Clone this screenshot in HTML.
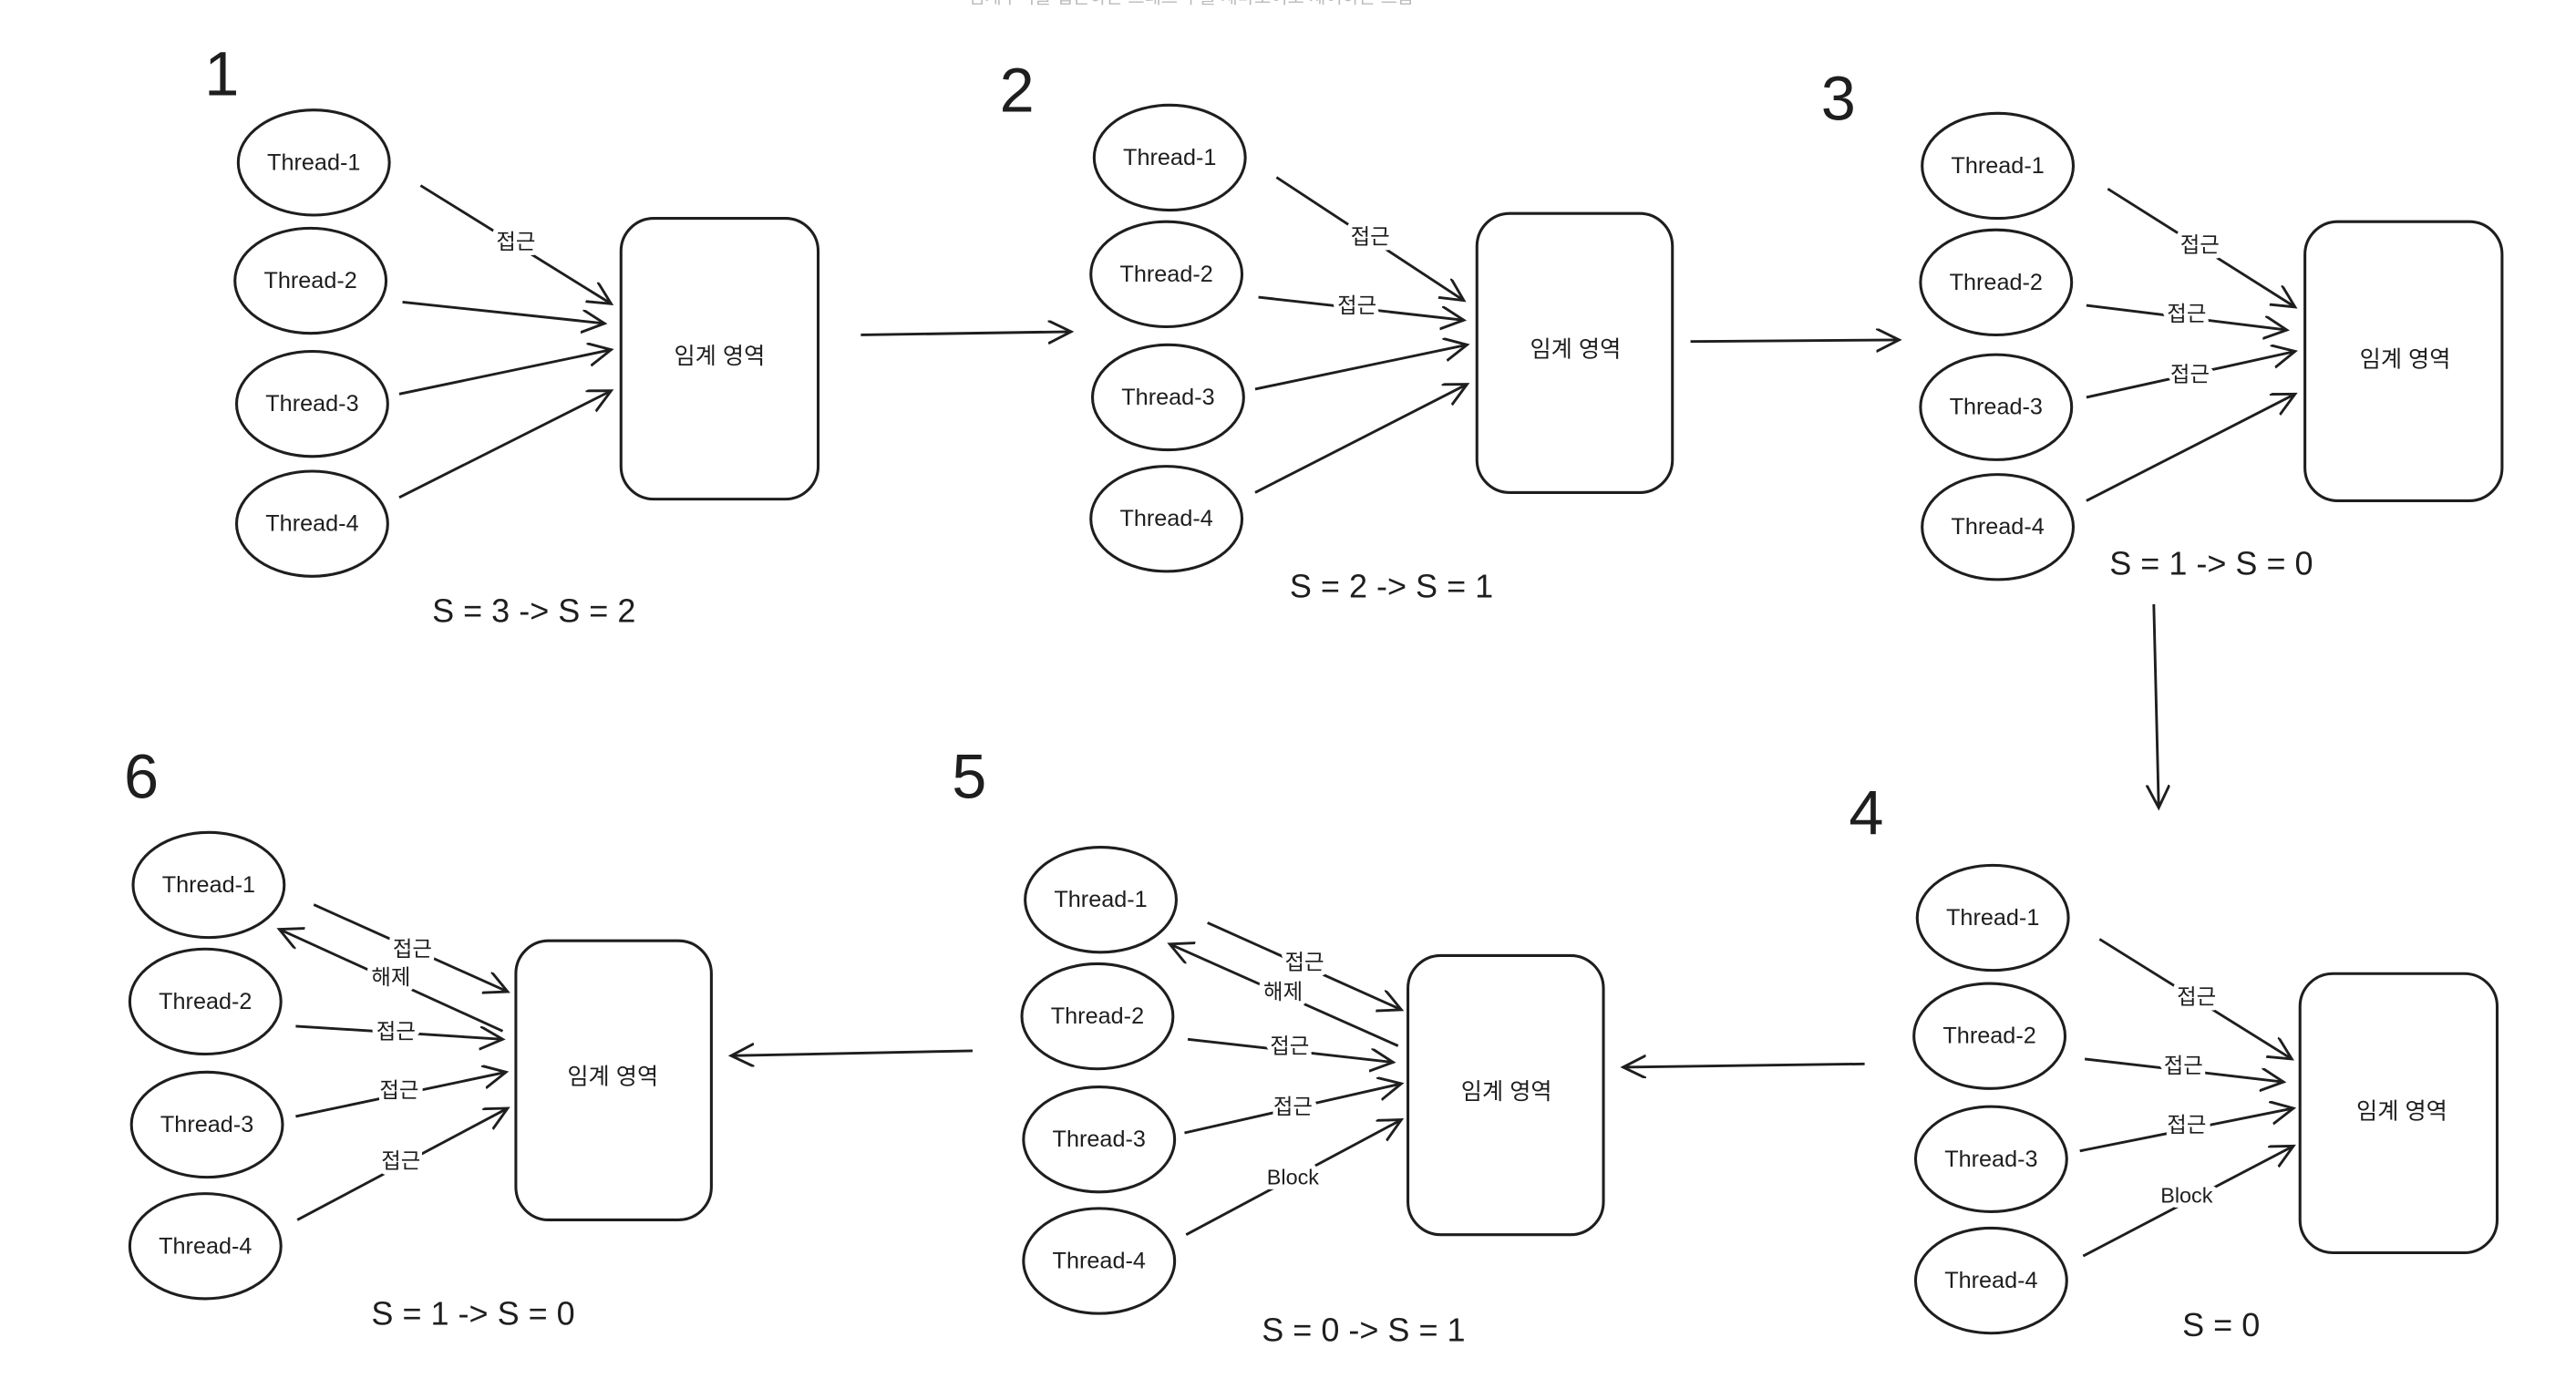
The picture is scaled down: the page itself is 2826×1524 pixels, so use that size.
<!DOCTYPE html>
<html><head><meta charset="utf-8"><style>
html,body{margin:0;padding:0;background:#fff;width:2826px;height:1524px;overflow:hidden}
svg{display:block}
text{font-family:"Liberation Sans","Noto Sans CJK KR",sans-serif;fill:#1e1e1e}
.t{font-size:14px;text-anchor:middle;dominant-baseline:central}
.l{font-size:13px;text-anchor:middle;dominant-baseline:central;stroke:#fff;stroke-width:6px;paint-order:stroke;stroke-linejoin:round}
.n{font-size:38px;text-anchor:middle;dominant-baseline:central}
.s{font-size:20px;text-anchor:middle;dominant-baseline:central}
ellipse,rect{fill:none;stroke:#1e1e1e;stroke-width:1.7}
line{stroke:#1e1e1e;stroke-width:1.6;marker-end:url(#a)}
</style></head><body>
<svg width="2826" height="1524" viewBox="0 0 1568 846" preserveAspectRatio="none">
<defs><marker id="a" markerWidth="20" markerHeight="20" refX="14" refY="7" orient="auto" markerUnits="userSpaceOnUse"><polyline points="0,0 14,7 0,14" fill="none" stroke="#1e1e1e" stroke-width="1.6"/></marker></defs>
<text x="725" y="2" style="font-size:11px;fill:#bbb;text-anchor:middle">임계구역을 접근하는 스레드 수를 세마포어로 제어하는 흐름</text>

<!-- Panel 1 -->
<text class="n" x="135" y="45">1</text>
<ellipse cx="191" cy="99" rx="46" ry="32"/><text class="t" x="191" y="99">Thread-1</text>
<ellipse cx="189" cy="171" rx="46" ry="32"/><text class="t" x="189" y="171">Thread-2</text>
<ellipse cx="190" cy="246" rx="46" ry="32"/><text class="t" x="190" y="246">Thread-3</text>
<ellipse cx="190" cy="319" rx="46" ry="32"/><text class="t" x="190" y="319">Thread-4</text>
<rect x="378" y="133" width="120" height="171" rx="20"/><text class="t" x="438" y="217">임계 영역</text>
<line x1="256" y1="113" x2="372" y2="185"/><text class="l" x="314" y="147">접근</text>
<line x1="245" y1="184" x2="368" y2="197"/>
<line x1="243" y1="240" x2="372" y2="213"/>
<line x1="243" y1="303" x2="372" y2="238"/>
<text class="s" x="325" y="372">S = 3 -&gt; S = 2</text>
<line x1="524" y1="204" x2="652" y2="202"/>

<!-- Panel 2 -->
<text class="n" x="619" y="55">2</text>
<ellipse cx="712" cy="96" rx="46" ry="32"/><text class="t" x="712" y="96">Thread-1</text>
<ellipse cx="710" cy="167" rx="46" ry="32"/><text class="t" x="710" y="167">Thread-2</text>
<ellipse cx="711" cy="242" rx="46" ry="32"/><text class="t" x="711" y="242">Thread-3</text>
<ellipse cx="710" cy="316" rx="46" ry="32"/><text class="t" x="710" y="316">Thread-4</text>
<rect x="899" y="130" width="119" height="170" rx="20"/><text class="t" x="959" y="213">임계 영역</text>
<line x1="777" y1="108" x2="891" y2="183"/><text class="l" x="834" y="144">접근</text>
<line x1="766" y1="181" x2="891" y2="195"/><text class="l" x="826" y="186">접근</text>
<line x1="764" y1="237" x2="893" y2="210"/>
<line x1="764" y1="300" x2="893" y2="234"/>
<text class="s" x="847" y="357">S = 2 -&gt; S = 1</text>
<line x1="1029" y1="208" x2="1156" y2="207"/>

<!-- Panel 3 -->
<text class="n" x="1119" y="60">3</text>
<ellipse cx="1216" cy="101" rx="46" ry="32"/><text class="t" x="1216" y="101">Thread-1</text>
<ellipse cx="1215" cy="172" rx="46" ry="32"/><text class="t" x="1215" y="172">Thread-2</text>
<ellipse cx="1215" cy="248" rx="46" ry="32"/><text class="t" x="1215" y="248">Thread-3</text>
<ellipse cx="1216" cy="321" rx="46" ry="32"/><text class="t" x="1216" y="321">Thread-4</text>
<rect x="1403" y="135" width="120" height="170" rx="20"/><text class="t" x="1464" y="219">임계 영역</text>
<line x1="1283" y1="115" x2="1397" y2="187"/><text class="l" x="1339" y="149">접근</text>
<line x1="1270" y1="186" x2="1392" y2="201"/><text class="l" x="1331" y="191">접근</text>
<line x1="1270" y1="242" x2="1397" y2="214"/><text class="l" x="1333" y="228">접근</text>
<line x1="1270" y1="305" x2="1397" y2="240"/>
<text class="s" x="1346" y="343">S = 1 -&gt; S = 0</text>
<line x1="1311" y1="368" x2="1314" y2="492"/>

<!-- Panel 4 -->
<text class="n" x="1136" y="495">4</text>
<ellipse cx="1213" cy="559" rx="46" ry="32"/><text class="t" x="1213" y="559">Thread-1</text>
<ellipse cx="1211" cy="631" rx="46" ry="32"/><text class="t" x="1211" y="631">Thread-2</text>
<ellipse cx="1212" cy="706" rx="46" ry="32"/><text class="t" x="1212" y="706">Thread-3</text>
<ellipse cx="1212" cy="780" rx="46" ry="32"/><text class="t" x="1212" y="780">Thread-4</text>
<rect x="1400" y="593" width="120" height="170" rx="20"/><text class="t" x="1462" y="677">임계 영역</text>
<line x1="1278" y1="572" x2="1395" y2="645"/><text class="l" x="1337" y="607">접근</text>
<line x1="1269" y1="645" x2="1390" y2="659"/><text class="l" x="1329" y="649">접근</text>
<line x1="1266" y1="701" x2="1396" y2="675"/><text class="l" x="1331" y="685">접근</text>
<line x1="1268" y1="765" x2="1396" y2="698"/><text class="l" x="1331" y="728">Block</text>
<text class="s" x="1352" y="807">S = 0</text>
<line x1="1135" y1="648" x2="988" y2="650"/>

<!-- Panel 5 -->
<text class="n" x="590" y="473">5</text>
<ellipse cx="670" cy="548" rx="46" ry="32"/><text class="t" x="670" y="548">Thread-1</text>
<ellipse cx="668" cy="619" rx="46" ry="32"/><text class="t" x="668" y="619">Thread-2</text>
<ellipse cx="669" cy="694" rx="46" ry="32"/><text class="t" x="669" y="694">Thread-3</text>
<ellipse cx="669" cy="768" rx="46" ry="32"/><text class="t" x="669" y="768">Thread-4</text>
<rect x="857" y="582" width="119" height="170" rx="20"/><text class="t" x="917" y="665">임계 영역</text>
<line x1="735" y1="562" x2="853" y2="615"/>
<line x1="851" y1="637" x2="712" y2="575"/>
<text class="l" x="794" y="586">접근</text><text class="l" x="781" y="604">해제</text>
<line x1="723" y1="633" x2="848" y2="647"/><text class="l" x="785" y="637">접근</text>
<line x1="721" y1="690" x2="853" y2="660"/><text class="l" x="787" y="674">접근</text>
<line x1="722" y1="752" x2="853" y2="682"/><text class="l" x="787" y="717">Block</text>
<text class="s" x="830" y="810">S = 0 -&gt; S = 1</text>
<line x1="592" y1="640" x2="445" y2="643"/>

<!-- Panel 6 -->
<text class="n" x="86" y="473">6</text>
<ellipse cx="127" cy="539" rx="46" ry="32"/><text class="t" x="127" y="539">Thread-1</text>
<ellipse cx="125" cy="610" rx="46" ry="32"/><text class="t" x="125" y="610">Thread-2</text>
<ellipse cx="126" cy="685" rx="46" ry="32"/><text class="t" x="126" y="685">Thread-3</text>
<ellipse cx="125" cy="759" rx="46" ry="32"/><text class="t" x="125" y="759">Thread-4</text>
<rect x="314" y="573" width="119" height="170" rx="20"/><text class="t" x="373" y="656">임계 영역</text>
<line x1="191" y1="551" x2="309" y2="604"/>
<line x1="306" y1="628" x2="170" y2="566"/>
<text class="l" x="251" y="578">접근</text><text class="l" x="238" y="595">해제</text>
<line x1="180" y1="625" x2="306" y2="633"/><text class="l" x="241" y="628">접근</text>
<line x1="180" y1="680" x2="308" y2="653"/><text class="l" x="243" y="664">접근</text>
<line x1="181" y1="743" x2="309" y2="675"/><text class="l" x="244" y="707">접근</text>
<text class="s" x="288" y="800">S = 1 -&gt; S = 0</text>
</svg>
</body></html>
